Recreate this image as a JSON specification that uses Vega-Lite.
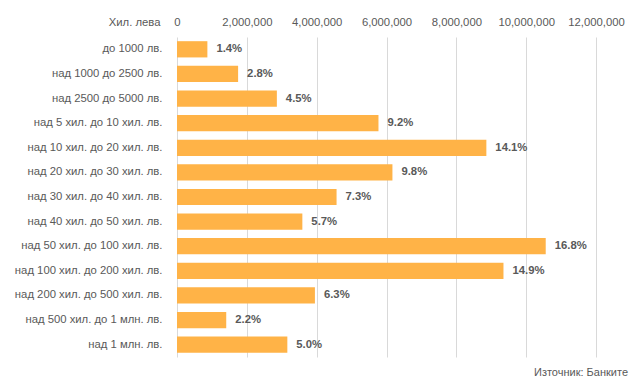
{
  "$schema": "https://vega.github.io/schema/vega-lite/v6.json",
  "width": 419,
  "height": 320,
  "autosize": {"type": "none"},
  "padding": {"left": 177, "top": 37, "right": 44, "bottom": 35},
  "background": "white",
  "config": {"view": {"stroke": null}, "font": "Liberation Sans, Arial"},
  "title": {"text": "Източник: Банките", "orient": "bottom", "anchor": "end", "frame": "group", "dx": 32, "offset": 10, "fontSize": 11, "fontWeight": "normal", "color": "#595959", "font": "Liberation Sans"},
  "data": {"values": [
    {"cat": "до 1000 лв.", "v": 870000, "p": "1.4%"},
    {"cat": "над 1000 до 2500 лв.", "v": 1750000, "p": "2.8%"},
    {"cat": "над 2500 до 5000 лв.", "v": 2860000, "p": "4.5%"},
    {"cat": "над 5 хил. до 10 хил. лв.", "v": 5770000, "p": "9.2%"},
    {"cat": "над 10 хил. до 20 хил. лв.", "v": 8860000, "p": "14.1%"},
    {"cat": "над 20 хил. до 30 хил. лв.", "v": 6170000, "p": "9.8%"},
    {"cat": "над 30 хил. до 40 хил. лв.", "v": 4570000, "p": "7.3%"},
    {"cat": "над 40 хил. до 50 хил. лв.", "v": 3590000, "p": "5.7%"},
    {"cat": "над 50 хил. до 100 хил. лв.", "v": 10560000, "p": "16.8%"},
    {"cat": "над 100 хил. до 200 хил. лв.", "v": 9350000, "p": "14.9%"},
    {"cat": "над 200 хил. до 500 хил. лв.", "v": 3950000, "p": "6.3%"},
    {"cat": "над 500 хил. до 1 млн. лв.", "v": 1410000, "p": "2.2%"},
    {"cat": "над 1 млн. лв.", "v": 3160000, "p": "5.0%"}
  ]},
  "encoding": {
    "y": {"field": "cat", "type": "nominal", "sort": null,
      "scale": {"paddingInner": 0.34, "paddingOuter": 0.17},
      "axis": {"title": null, "ticks": false, "domain": false, "labelPadding": 15, "labelFontSize": 11.3, "labelColor": "#595959", "labelLimit": 200}},
    "x": {"field": "v", "type": "quantitative",
      "scale": {"domain": [0, 12000000], "nice": false},
      "axis": {"orient": "top", "values": [0, 2000000, 4000000, 6000000, 8000000, 10000000, 12000000], "format": ",d",
        "ticks": false, "domain": false, "grid": true, "gridColor": "#d9d9d9", "gridWidth": 1,
        "labelPadding": 10, "labelFontSize": 11.3, "labelColor": "#595959", "labelFlush": false,
        "title": "Хил. лева", "titleFontWeight": "normal", "titleFontSize": 11.3, "titleColor": "#595959",
        "titleX": -17, "titleY": -15, "titleAlign": "right", "titleBaseline": "middle", "titleAngle": 0}}
  },
  "layer": [
    {"mark": {"type": "bar", "color": "#FFB347"}},
    {"mark": {"type": "text", "align": "left", "baseline": "middle", "dx": 9, "fontWeight": "bold", "fontSize": 11.3, "color": "#595959"},
     "encoding": {"text": {"field": "p", "type": "nominal"}}}
  ]
}
